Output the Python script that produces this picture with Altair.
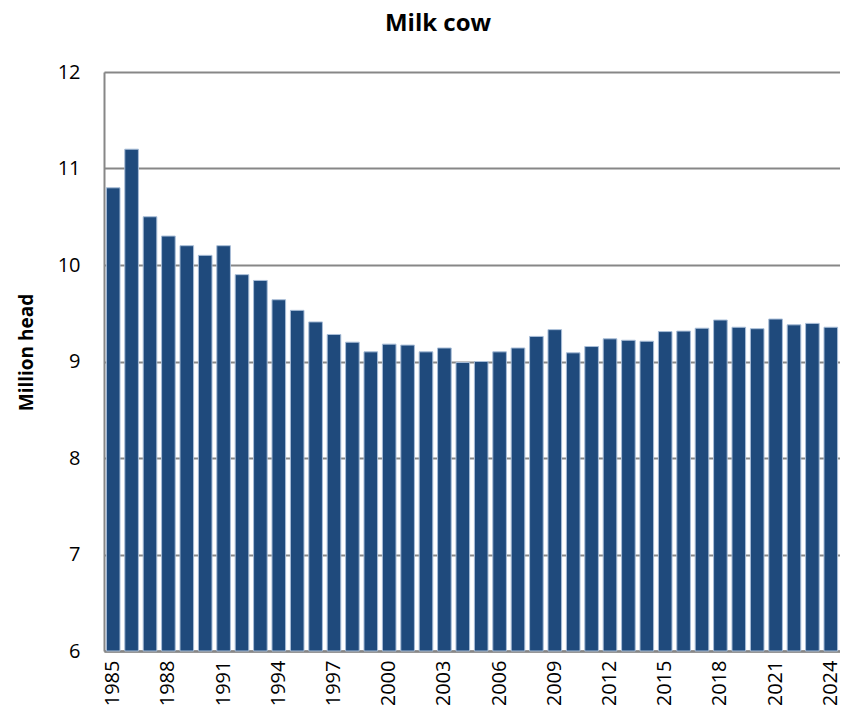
import altair as alt
import pandas as pd

years = [str(y) for y in range(1985, 2025)]
million_head = [
    10.80, 11.20, 10.50, 10.30, 10.20, 10.10, 10.20, 9.90, 9.84, 9.64,
    9.53, 9.41, 9.28, 9.20, 9.10, 9.18, 9.17, 9.10, 9.14, 8.99,
    9.00, 9.10, 9.14, 9.26, 9.33, 9.09, 9.155, 9.235, 9.22, 9.21,
    9.31, 9.315, 9.345, 9.43, 9.355, 9.34, 9.44, 9.38, 9.395, 9.355,
]
tick_years = [str(y) for y in range(1985, 2025, 3)]

df = pd.DataFrame({"year": years, "value": million_head})

FONT = "Open Sans"

chart = alt.Chart(df).mark_bar(
    color="#1F4A7C", stroke="#A9BED8", strokeWidth=1
).encode(
    x=alt.X(
        "year:N",
        sort=years,
        scale=alt.Scale(paddingInner=0.26, paddingOuter=0.13),
        axis=alt.Axis(
            title=None,
            values=tick_years,
            labelAngle=-90,
            labelFont=FONT,
            labelFontSize=20,
            labelColor="black",
            labelPadding=9,
            ticks=False,
            domainColor="#878787",
            domainWidth=2.5,
            grid=False,
        ),
    ),
    y=alt.Y(
        "value:Q",
        scale=alt.Scale(domain=[6, 12], zero=False, nice=False),
        axis=alt.Axis(
            title="Million head",
            titleFont=FONT,
            titleFontSize=19,
            titleFontWeight="bold",
            titleColor="black",
            titleAngle=-90,
            titleAlign="center",
            titleBaseline="middle",
            titleX=-78,
            titleY=280,
            values=[6, 7, 8, 9, 10, 11, 12],
            labelFont=FONT,
            labelFontSize=20,
            labelColor="black",
            labelPadding=24,
            ticks=False,
            domainColor="#878787",
            domainWidth=2,
            grid=True,
            gridColor="#878787",
            gridWidth=2,
        ),
    ),
    y2=alt.datum(6),
).properties(
    width=736,
    height=579,
    title=alt.TitleParams(
        text="Milk cow",
        font=FONT,
        fontSize=24,
        fontWeight="bold",
        color="black",
        anchor="middle",
        frame="group",
        dx=-34,
        baseline="alphabetic",
        offset=7,
    ),
    autosize=alt.AutoSizeParams(type="none"),
    padding={"left": 96, "top": 64, "right": 0, "bottom": 54},
).configure_view(stroke=None).configure(background="white")

chart.save("out.html", embed_options={"renderer": "svg", "actions": False})
